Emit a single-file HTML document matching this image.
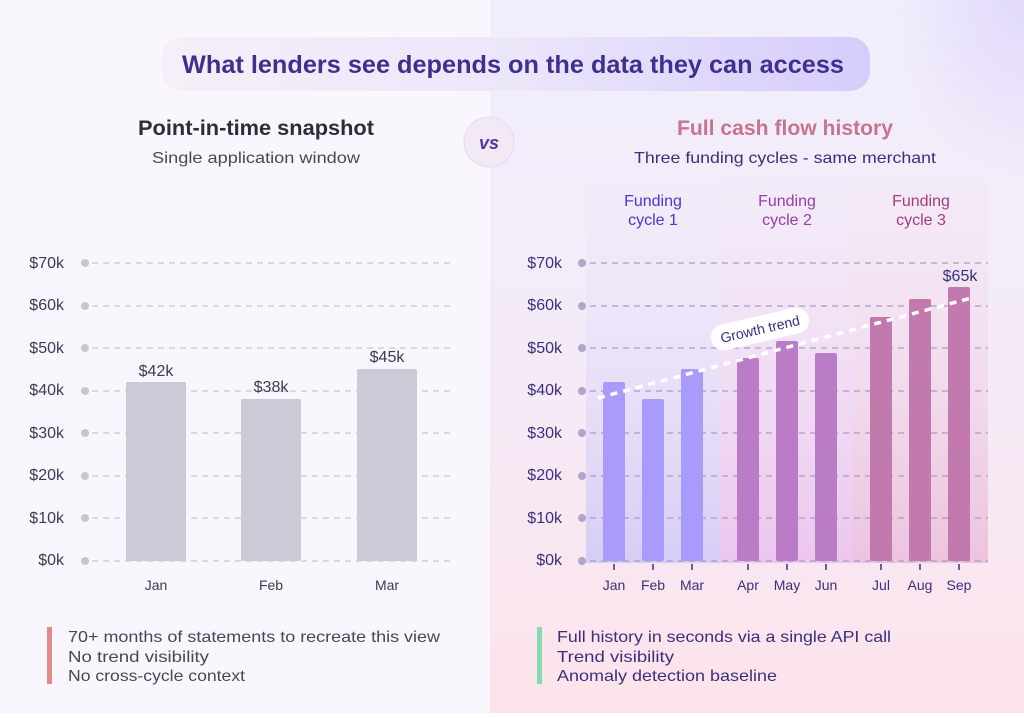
<!DOCTYPE html>
<html><head><meta charset="utf-8"><style>
body{margin:0;width:1024px;height:713px;overflow:hidden;font-family:"Liberation Sans",sans-serif}
</style></head><body>
<svg width="1024" height="713" viewBox="0 0 1024 713" xmlns="http://www.w3.org/2000/svg" font-family="Liberation Sans, sans-serif">
<defs>
<linearGradient id="rbg" x1="0" y1="0" x2="0" y2="1">
<stop offset="0" stop-color="#f1eefc"/><stop offset="0.6" stop-color="#f6eaf6"/><stop offset="1" stop-color="#fde3ea"/></linearGradient>
<linearGradient id="pill" x1="0" y1="0" x2="1" y2="0">
<stop offset="0" stop-color="#f6eef8"/><stop offset="0.5" stop-color="#ece6fb"/><stop offset="1" stop-color="#d6ccfb"/></linearGradient>
<linearGradient id="c1" x1="0" y1="0" x2="0" y2="1"><stop offset="0" stop-color="#ede8fb" stop-opacity="0.2"/><stop offset="1" stop-color="#d6cdf6"/></linearGradient>
<linearGradient id="c2" x1="0" y1="0" x2="0" y2="1"><stop offset="0" stop-color="#f1e4f6" stop-opacity="0.2"/><stop offset="1" stop-color="#ebc6ee"/></linearGradient>
<linearGradient id="c3" x1="0" y1="0" x2="0" y2="1"><stop offset="0" stop-color="#f4e2ee" stop-opacity="0.2"/><stop offset="1" stop-color="#ecc3df"/></linearGradient>
<radialGradient id="corner" cx="1" cy="0" r="0.25"><stop offset="0" stop-color="#ddd3fb" stop-opacity="0.8"/><stop offset="1" stop-color="#ddd3fb" stop-opacity="0"/></radialGradient>
</defs>
<rect width="1024" height="713" fill="#f9f6fd"/>
<rect x="490" width="534" height="713" fill="url(#rbg)"/>
<rect x="490" width="534" height="713" fill="url(#corner)"/>
<rect x="162" y="37" width="708" height="54" rx="20" fill="url(#pill)"/>
<text x="513" y="73" text-anchor="middle" font-size="25" font-weight="bold" fill="#3f2f8f" textLength="662" lengthAdjust="spacingAndGlyphs">What lenders see depends on the data they can access</text>
<text x="256" y="135" text-anchor="middle" font-size="21" font-weight="bold" fill="#2f2b3a" textLength="236" lengthAdjust="spacingAndGlyphs">Point-in-time snapshot</text>
<text x="256" y="163" text-anchor="middle" font-size="16" fill="#4a4658" textLength="208" lengthAdjust="spacingAndGlyphs">Single application window</text>
<circle cx="489" cy="142" r="25" fill="#f3e9f6" stroke="#e4daf2"/>
<text x="489" y="149" text-anchor="middle" font-size="18" font-weight="bold" font-style="italic" fill="#4a3a9c">vs</text>
<text x="785" y="135" text-anchor="middle" font-size="21" font-weight="bold" fill="#c9748e" textLength="216" lengthAdjust="spacingAndGlyphs">Full cash flow history</text>
<text x="785" y="163" text-anchor="middle" font-size="16" fill="#3a2f7f" textLength="302" lengthAdjust="spacingAndGlyphs">Three funding cycles - same merchant</text>
<g font-size="16" fill="#3f3a55" text-anchor="end">
<text x="64" y="268">$70k</text><text x="64" y="310">$60k</text><text x="64" y="353">$50k</text><text x="64" y="395">$40k</text><text x="64" y="438">$30k</text><text x="64" y="480">$20k</text><text x="64" y="523">$10k</text><text x="64" y="565">$0k</text>
</g>
<g stroke="#c9c5d3" stroke-dasharray="6 5" stroke-width="1.3">
<line x1="92" y1="263" x2="455" y2="263"/><line x1="92" y1="306" x2="455" y2="306"/><line x1="92" y1="348" x2="455" y2="348"/><line x1="92" y1="391" x2="455" y2="391"/><line x1="92" y1="433" x2="455" y2="433"/><line x1="92" y1="476" x2="455" y2="476"/><line x1="92" y1="518" x2="455" y2="518"/><line x1="92" y1="561" x2="455" y2="561"/>
</g>
<g fill="#c8c4d2"><circle cx="85" cy="263" r="4"/><circle cx="85" cy="306" r="4"/><circle cx="85" cy="348" r="4"/><circle cx="85" cy="391" r="4"/><circle cx="85" cy="433" r="4"/><circle cx="85" cy="476" r="4"/><circle cx="85" cy="518" r="4"/><circle cx="85" cy="561" r="4"/></g>
<g fill="#cdc9d6">
<rect x="126" y="382" width="60" height="179" rx="2"/><rect x="241" y="399" width="60" height="162" rx="2"/><rect x="357" y="369" width="60" height="192" rx="2"/>
</g>
<g font-size="16" fill="#3f3a55" text-anchor="middle">
<text x="156" y="376">$42k</text><text x="271" y="392">$38k</text><text x="387" y="362">$45k</text>
</g>
<g font-size="14" fill="#3f3a55" text-anchor="middle">
<text x="156" y="590">Jan</text><text x="271" y="590">Feb</text><text x="387" y="590">Mar</text>
</g>
<rect x="586" y="180" width="134" height="383" fill="url(#c1)"/>
<rect x="720" y="180" width="133" height="383" fill="url(#c2)"/>
<rect x="853" y="180" width="135" height="383" fill="url(#c3)"/>
<g font-size="16" text-anchor="middle">
<text x="653" y="206" fill="#4a37d6">Funding</text><text x="653" y="225" fill="#4a37d6">cycle 1</text>
<text x="787" y="206" fill="#9b3aa8">Funding</text><text x="787" y="225" fill="#9b3aa8">cycle 2</text>
<text x="921" y="206" fill="#a83a82">Funding</text><text x="921" y="225" fill="#a83a82">cycle 3</text>
</g>
<g font-size="16" fill="#3a2f7f" text-anchor="end">
<text x="562" y="268">$70k</text><text x="562" y="310">$60k</text><text x="562" y="353">$50k</text><text x="562" y="395">$40k</text><text x="562" y="438">$30k</text><text x="562" y="480">$20k</text><text x="562" y="523">$10k</text><text x="562" y="565">$0k</text>
</g>
<g stroke="#a99cc4" stroke-dasharray="6 5" stroke-width="1.3">
<line x1="590" y1="263" x2="988" y2="263"/><line x1="590" y1="306" x2="988" y2="306"/><line x1="590" y1="348" x2="988" y2="348"/><line x1="590" y1="391" x2="988" y2="391"/><line x1="590" y1="433" x2="988" y2="433"/><line x1="590" y1="476" x2="988" y2="476"/><line x1="590" y1="518" x2="988" y2="518"/><line x1="590" y1="561" x2="988" y2="561"/>
</g>
<g fill="#b2a5cc"><circle cx="582" cy="263" r="4"/><circle cx="582" cy="306" r="4"/><circle cx="582" cy="348" r="4"/><circle cx="582" cy="391" r="4"/><circle cx="582" cy="433" r="4"/><circle cx="582" cy="476" r="4"/><circle cx="582" cy="518" r="4"/><circle cx="582" cy="561" r="4"/></g>
<g fill="#a99bfb">
<rect x="603" y="382" width="22" height="179" rx="2"/><rect x="642" y="399" width="22" height="162" rx="2"/><rect x="681" y="369" width="22" height="192" rx="2"/>
</g>
<g fill="#bb7cc7">
<rect x="737" y="358" width="22" height="203" rx="2"/><rect x="776" y="341" width="22" height="220" rx="2"/><rect x="815" y="353" width="22" height="208" rx="2"/>
</g>
<g fill="#c27aae">
<rect x="870" y="317" width="22" height="244" rx="2"/><rect x="909" y="299" width="22" height="262" rx="2"/><rect x="948" y="287" width="22" height="274" rx="2"/>
</g>
<line x1="598" y1="398" x2="975" y2="297" stroke="#fff" stroke-width="3.5" stroke-dasharray="7 6"/>
<g transform="translate(760,329) rotate(-13)">
<rect x="-50" y="-13" width="100" height="26" rx="13" fill="#fff"/>
<text x="0" y="5" text-anchor="middle" font-size="14" fill="#3a2f7f">Growth trend</text>
</g>
<text x="960" y="281" text-anchor="middle" font-size="16" fill="#3a2f7f">$65k</text>
<g stroke="#3a2f7f" stroke-width="1.5">
<line x1="614" y1="564" x2="614" y2="570"/><line x1="653" y1="564" x2="653" y2="570"/><line x1="692" y1="564" x2="692" y2="570"/><line x1="748" y1="564" x2="748" y2="570"/><line x1="787" y1="564" x2="787" y2="570"/><line x1="826" y1="564" x2="826" y2="570"/><line x1="881" y1="564" x2="881" y2="570"/><line x1="920" y1="564" x2="920" y2="570"/><line x1="959" y1="564" x2="959" y2="570"/>
</g>
<g font-size="14" fill="#3a2f7f" text-anchor="middle">
<text x="614" y="590">Jan</text><text x="653" y="590">Feb</text><text x="692" y="590">Mar</text><text x="748" y="590">Apr</text><text x="787" y="590">May</text><text x="826" y="590">Jun</text><text x="881" y="590">Jul</text><text x="920" y="590">Aug</text><text x="959" y="590">Sep</text>
</g>
<rect x="47" y="627" width="5" height="57" fill="#e48a86"/>
<g font-size="16" fill="#4a4658">
<text x="68" y="642" textLength="372" lengthAdjust="spacingAndGlyphs">70+ months of statements to recreate this view</text>
<text x="68" y="662" textLength="141" lengthAdjust="spacingAndGlyphs">No trend visibility</text>
<text x="68" y="681" textLength="177" lengthAdjust="spacingAndGlyphs">No cross-cycle context</text>
</g>
<rect x="537" y="627" width="5" height="57" fill="#7fdcb3"/>
<g font-size="16" fill="#3a2f7f">
<text x="557" y="642" textLength="334" lengthAdjust="spacingAndGlyphs">Full history in seconds via a single API call</text>
<text x="557" y="662" textLength="117" lengthAdjust="spacingAndGlyphs">Trend visibility</text>
<text x="557" y="681" textLength="220" lengthAdjust="spacingAndGlyphs">Anomaly detection baseline</text>
</g>
</svg>
</body></html>
